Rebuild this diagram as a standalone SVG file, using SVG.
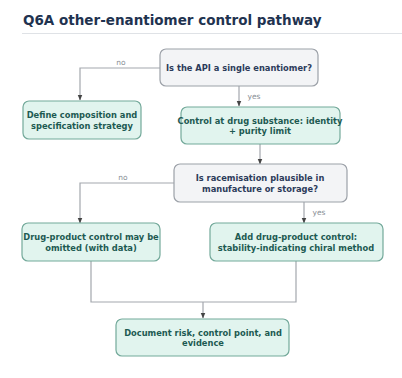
<svg xmlns="http://www.w3.org/2000/svg" width="402" height="378" viewBox="0 0 402 378">
<defs>
<marker id="arr" viewBox="0 0 10 10" refX="9" refY="5" markerWidth="5" markerHeight="5" orient="auto">
<path d="M0,1 L10,5 L0,9 z" fill="#444"/>
</marker>
<style>
.title{font-family:"DejaVu Sans",sans-serif;font-weight:bold;font-size:13.5px;fill:#1f3350}
.dec rect{fill:#f3f4f6;stroke:#9ca1a8;stroke-width:1.2}
.act rect{fill:#e1f4ee;stroke:#73a99a;stroke-width:1.2}
.dec text{font-family:"DejaVu Sans",sans-serif;font-weight:bold;font-size:8.3px;fill:#2c3b5a;text-anchor:middle}
.act text{font-family:"DejaVu Sans",sans-serif;font-weight:bold;font-size:8.3px;fill:#1d5a52;text-anchor:middle}
.edges path{fill:none;stroke:#a3a7ad;stroke-width:1.2}
.edges path.a{marker-end:url(#arr)}
.lbl{font-family:"DejaVu Sans",sans-serif;font-size:7.5px;fill:#8a8f96;text-anchor:middle}
</style>
</defs>
<rect width="402" height="378" fill="#ffffff"/>
<text class="title" x="23" y="25">Q6A other-enantiomer control pathway</text>
<line x1="22" y1="33.5" x2="402" y2="33.5" stroke="#dfe2e6" stroke-width="1"/>
<g class="edges">
<path class="a" d="M160,68 H80 V100"/>
<path class="a" d="M239,86 V106"/>
<path class="a" d="M260,144 V164"/>
<path class="a" d="M174,183 H80 V223"/>
<path class="a" d="M304,202 V223"/>
<path d="M91,261 V302 H296 V261"/>
<path class="a" d="M203,302 V318"/>
<text class="lbl" x="121" y="65">no</text>
<text class="lbl" x="254" y="99">yes</text>
<text class="lbl" x="123" y="180">no</text>
<text class="lbl" x="319" y="215">yes</text>
</g>
<g id="n1" class="dec"><rect x="160" y="49" width="158" height="37" rx="6"/><text x="239" y="71">Is the API a single enantiomer?</text></g>
<g id="n2" class="act"><rect x="23" y="101" width="118" height="38" rx="6"/><text x="82" y="118">Define composition and</text><text x="82" y="128.5">specification strategy</text></g>
<g id="n3" class="act"><rect x="181" y="107" width="159" height="37" rx="6"/><text x="260" y="123.5">Control at drug substance: identity</text><text x="260" y="134">+ purity limit</text></g>
<g id="n4" class="dec"><rect x="174" y="164" width="173" height="38" rx="6"/><text x="260" y="181">Is racemisation plausible in</text><text x="260" y="191.5">manufacture or storage?</text></g>
<g id="n5" class="act"><rect x="22" y="223" width="138" height="38" rx="6"/><text x="91" y="240">Drug-product control may be</text><text x="91" y="250.5">omitted (with data)</text></g>
<g id="n6" class="act"><rect x="210" y="223" width="173" height="38" rx="6"/><text x="296" y="240">Add drug-product control:</text><text x="296" y="250.5">stability-indicating chiral method</text></g>
<g id="n7" class="act"><rect x="116" y="319" width="173" height="37" rx="6"/><text x="203" y="335.5">Document risk, control point, and</text><text x="203" y="346">evidence</text></g>
</svg>
